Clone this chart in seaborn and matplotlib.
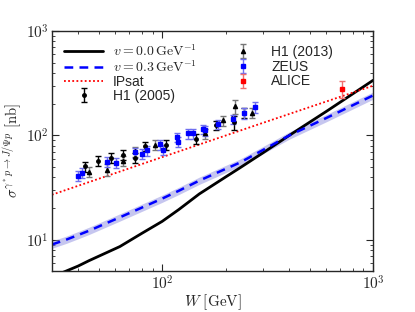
import numpy as np
import pandas as pd
import matplotlib
matplotlib.use("Agg")
import matplotlib.pyplot as plt
import matplotlib.ticker as mticker
import seaborn as sns

# model curves
w_curve = [30, 35, 40, 45, 63, 80, 100, 120, 150, 200, 234, 300, 400, 600, 1000]
sigma_v00 = [4.4, 5.0, 5.6, 6.3, 8.6, 11.5, 15.0, 19.5, 27.5, 40.0, 49.0, 68.0, 100.0, 170.0, 338.0]
sigma_v03 = [9.0, 10.0, 11.1, 12.2, 16.4, 20.3, 24.8, 29.5, 36.9, 47.8, 55.0, 72.4, 100.0, 147.0, 242.0]
band_rel = 0.08
w_ipsat = [30, 100, 300, 1000]
sigma_ipsat = [27.0, 62.0, 132.0, 300.0]

# data sets
w_h1_2005 = [42.9, 49.9, 56.9, 64.9, 74.0, 82.6, 103.9, 144.0, 179.5, 219.0, 244.0]
s_h1_2005 = [50.4, 57.5, 61.4, 65.6, 61.4, 78.4, 81.8, 93.5, 124.8, 133.3, 166.0]
e_h1_2005 = [5.5, 6.0, 6.5, 7.0, 6.5, 8.0, 8.5, 10.0, 13.0, 20.0, 18.0]

w_h1_2013 = [44.8, 54.5, 64.9, 74.0, 92.1, 159.0, 193.6, 221.0, 266.0]
s_h1_2013 = [45.1, 47.1, 57.5, 70.2, 81.8, 104.5, 139.4, 190.0, 166.0]
e_h1_2013 = [5.0, 6.0, 6.5, 8.0, 9.0, 12.0, 15.0, 30.0, 18.0]

w_zeus = [39.7, 41.9, 54.5, 60.1, 74.0, 80.0, 84.4, 98.0, 101.0, 117.0, 118.5,
          132.0, 139.6, 155.6, 159.3, 183.5, 216.0, 244.0, 275.0]
s_zeus = [41.2, 44.1, 56.2, 55.0, 68.7, 67.1, 71.8, 82.0, 73.0, 95.7, 87.5,
          104.5, 104.5, 114.2, 111.7, 127.5, 142.6, 163.0, 186.0]
e_zeus = [4.5, 5.0, 6.0, 6.0, 7.5, 7.5, 8.0, 9.0, 8.0, 10.0, 10.0,
          11.0, 11.0, 12.0, 12.0, 13.0, 15.0, 20.0, 22.0]

w_alice = [709.0]
s_alice = [281.0]
e_alice = [50.0]

sns.set_style("ticks")
plt.rcParams["font.family"] = ["Liberation Sans", "DejaVu Sans"]
plt.rcParams["mathtext.fontset"] = "cm"

fig, ax = plt.subplots(figsize=(4.15, 3.12), dpi=100)
fig.subplots_adjust(left=0.125, right=0.899, bottom=0.131, top=0.90)

curves = pd.DataFrame({"W": w_curve, "v00": sigma_v00, "v03": sigma_v03})
lo = np.array(sigma_v03) * (1 - band_rel)
hi = np.array(sigma_v03) * (1 + band_rel)
ax.fill_between(w_curve, lo, hi, color="#8f8fe0", alpha=0.5, lw=0)
sns.lineplot(data=curves, x="W", y="v00", ax=ax, color="black", lw=2,
             label=r"$v=0.0\,\mathrm{GeV}^{-1}$")
sns.lineplot(data=curves, x="W", y="v03", ax=ax, color="blue", lw=1.8,
             ls=(0, (3.5, 2.5)), label=r"$v=0.3\,\mathrm{GeV}^{-1}$")
sns.lineplot(x=w_ipsat, y=sigma_ipsat, ax=ax, color="red", lw=1.3,
             ls=(0, (1, 1.3)), label="IPsat")

h05 = ax.errorbar(w_h1_2005, s_h1_2005, yerr=e_h1_2005, fmt="o", ms=2.5,
                  color="black", ecolor="black", elinewidth=1, capsize=2.5,
                  label="H1 (2005)")
h13 = ax.errorbar(w_h1_2013, s_h1_2013, yerr=e_h1_2013, fmt="^", ms=3,
                  color="black", ecolor="#777777", elinewidth=1, capsize=2.5,
                  label="H1 (2013)")
hz = ax.errorbar(w_zeus, s_zeus, yerr=e_zeus, fmt="s", ms=2.5,
                 color="blue", ecolor="#6f6ff0", elinewidth=1, capsize=2.5,
                 label="ZEUS")
ha = ax.errorbar(w_alice, s_alice, yerr=e_alice, fmt="s", ms=2.5,
                 color="red", ecolor="#f06f6f", elinewidth=1, capsize=2.5,
                 label="ALICE")

ax.set_xscale("log")
ax.set_yscale("log")
ax.set_xlim(30, 1000)
ax.set_ylim(5, 1000)

# tick labels in computer modern
dec_fmt = mticker.FuncFormatter(lambda v, pos: r"$10^{%d}$" % round(np.log10(v)))
ax.xaxis.set_major_formatter(dec_fmt)
ax.yaxis.set_major_formatter(dec_fmt)
ax.xaxis.set_minor_formatter(mticker.NullFormatter())
ax.yaxis.set_minor_formatter(mticker.NullFormatter())

ax.set_xlabel(r"$W\ [\mathrm{GeV}]$", fontsize=11, labelpad=0)
ax.set_ylabel(r"$\sigma^{\gamma^* p\rightarrow J/\Psi p}\ [\mathrm{nb}]$", fontsize=10.5, labelpad=2)
ax.tick_params(which="both", direction="in", top=True, right=True, labelsize=11, pad=2.5)
ax.tick_params(which="major", length=5)
ax.tick_params(which="minor", length=2.5)
for s in ax.spines.values():
    s.set_linewidth(1)

handles, labels = ax.get_legend_handles_labels()
lines = [h for h, l in zip(handles, labels) if l in (labels[0], labels[1], "IPsat")]
leg1 = ax.legend(lines + [h05], [r"$v=0.0\,\mathrm{GeV}^{-1}$", r"$v=0.3\,\mathrm{GeV}^{-1}$",
                 "IPsat", "H1 (2005)"], loc="upper left", frameon=False,
                 fontsize=10, handlelength=2.8, labelspacing=0.0,
                 borderaxespad=0.5, handletextpad=0.7)
ax.add_artist(leg1)
ax.legend([h13, hz, ha], ["H1 (2013)", "ZEUS", "ALICE"], loc="upper left",
          bbox_to_anchor=(0.51, 1.0), frameon=False, fontsize=10,
          labelspacing=0.05, handletextpad=1.0, borderaxespad=0.6)

fig.savefig("out.png", dpi=100)
